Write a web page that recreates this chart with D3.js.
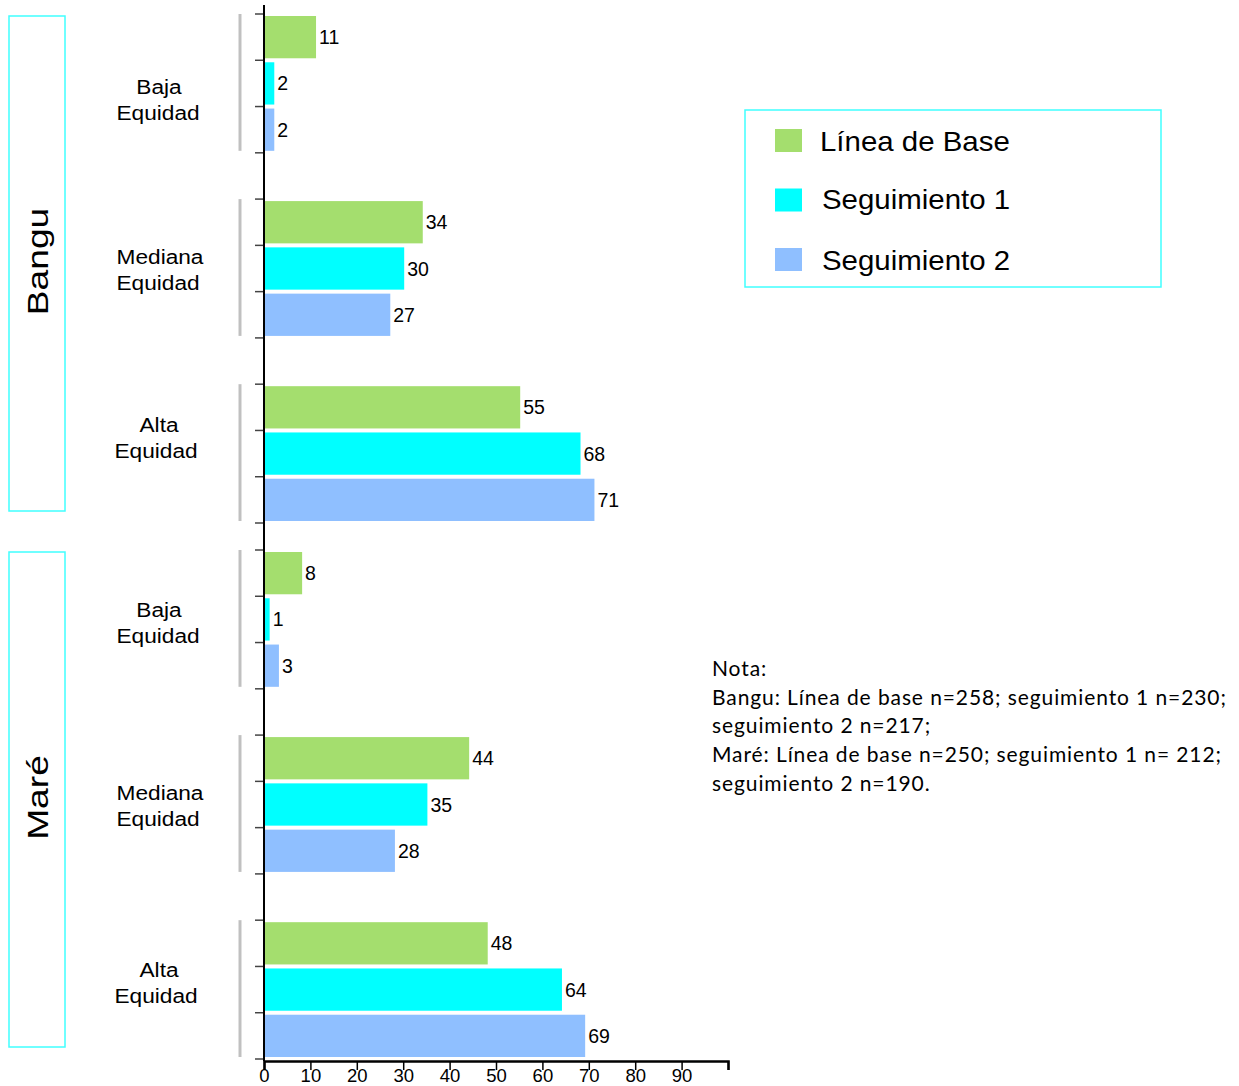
<!DOCTYPE html>
<html>
<head>
<meta charset="utf-8">
<script src="https://cdn.jsdelivr.net/npm/d3@7"></script>
<style>
  body { margin: 0; background: #fff; }
</style>
</head>
<body>
<div id="chart"></div>
<script>
// datos
const sites = ["Bangu", "Maré"]
const levels = [["Baja", "Equidad"], ["Mediana", "Equidad"], ["Alta", "Equidad"]]
const seriesNames = ["Línea de Base", "Seguimiento 1", "Seguimiento 2"]
const seriesColors = ["#a4de6e", "#00ffff", "#8fbfff"]
const banguValues = [[11, 2, 2], [34, 30, 27], [55, 68, 71]]
const mareValues = [[8, 1, 3], [44, 35, 28], [48, 64, 69]]
const xTicks = [0, 10, 20, 30, 40, 50, 60, 70, 80, 90, 100]
const xTickLabels = ["0", "10", "20", "30", "40", "50", "60", "70", "80", "90", ""]
const notaLines = [
  "Nota:",
  "Bangu: Línea de base n=258; seguimiento 1 n=230;",
  "seguimiento 2 n=217;",
  "Maré: Línea de base n=250; seguimiento 1 n= 212;",
  "seguimiento 2 n=190."
]

const width = 1239
const height = 1086
const FONT = "Liberation Sans, Arial, sans-serif"
// desplazamiento vertical de las etiquetas de grupo (como en el original)
const panels = [
  { name: sites[0], values: banguValues, top: 14, bottom: 523, labelShift: [4, -12, -29] },
  { name: sites[1], values: mareValues, top: 550, bottom: 1059, labelShift: [-9, -12, -20] }
]

const svg = d3.select("#chart").append("svg")
  .attr("width", width).attr("height", height)
  .attr("font-family", FONT)

// texto algo estirado en horizontal, como el original
function stretchText(group, tx, ty, sx, str, size, anchor) {
  return group.append("text")
    .attr("transform", `translate(${tx},${ty}) scale(${sx},1)`)
    .attr("text-anchor", anchor || "middle")
    .attr("font-size", size)
    .text(str)
}

const x = d3.scaleLinear().domain([0, 100]).range([264, 728])

// filas: 3 barras por grupo y una fila vacía entre grupos
const slots = []
levels.forEach((l, i) => {
  seriesNames.forEach((s, j) => slots.push(i + "|" + j))
  if (i < levels.length - 1) slots.push("gap" + i)
})

panels.forEach(p => {
  const y = d3.scaleBand().domain(slots).range([p.top, p.bottom]).padding(0)
  const g = svg.append("g")

  // ticks en los limites de cada fila
  const bounds = slots.map(s => y(s)).concat([p.bottom])
  g.selectAll("line.tick").data(bounds).join("line")
    .attr("x1", x(0) - 9).attr("x2", x(0))
    .attr("y1", d => d).attr("y2", d => d)
    .attr("stroke", "#444").attr("stroke-width", 1.5)

  levels.forEach((lab, i) => {
    const gTop = y(i + "|0")
    const gBot = y(i + "|2") + y.bandwidth()
    const mid = (gTop + gBot) / 2 + p.labelShift[i]

    g.append("line")
      .attr("x1", 240).attr("x2", 240)
      .attr("y1", gTop).attr("y2", gBot - 2)
      .attr("stroke", "#c0c0c0").attr("stroke-width", 3)

    stretchText(g, lab[0] === "Mediana" ? 160 : 159, mid + 7, 1.08, lab[0], 21)
    stretchText(g, lab[0] === "Alta" ? 156 : 158, mid + 33, 1.08, lab[1], 21)

    const rows = p.values[i].map((v, j) => ({ v: v, key: i + "|" + j, c: seriesColors[j] }))
    g.selectAll("rect.b" + i).data(rows).join("rect")
      .attr("x", x(0) + 1)
      .attr("y", d => y(d.key) + 2)
      .attr("width", d => x(d.v) - x(0))
      .attr("height", y.bandwidth() - 4)
      .attr("fill", d => d.c)
    g.selectAll("text.v" + i).data(rows).join("text")
      .attr("x", d => x(d.v) + 4)
      .attr("y", d => y(d.key) + y.bandwidth() / 2 + 7)
      .attr("font-size", 19.5)
      .text(d => d.v)
  })

  // caja del sitio
  const bx = { x: 9, y: p.top + 2, w: 56, h: p.bottom - p.top - 14 }
  g.append("rect").attr("x", bx.x).attr("y", bx.y).attr("width", bx.w).attr("height", bx.h)
    .attr("fill", "none").attr("stroke", "#40ffff").attr("stroke-width", 1.5)
  g.append("text")
    .attr("transform", `translate(${bx.x + bx.w / 2 + 11},${bx.y + bx.h / 2 - 2}) rotate(-90) scale(1.24,1)`)
    .attr("text-anchor", "middle").attr("font-size", 30).text(p.name)
})

// eje vertical
svg.append("line").attr("x1", x(0)).attr("x2", x(0)).attr("y1", 5).attr("y2", 1061)
  .attr("stroke", "#000").attr("stroke-width", 2)

// eje x
const xAxis = d3.axisBottom(x).tickValues(xTicks).tickSize(9)
  .tickFormat((d, i) => xTickLabels[i])
const xAxisGroup = svg.append("g").attr("transform", "translate(0,1061)").call(xAxis)
  .attr("font-family", FONT)
xAxisGroup.select(".domain").attr("stroke-width", 2.5)
xAxisGroup.selectAll(".tick line").attr("stroke-width", 1.5)
xAxisGroup.selectAll(".tick text")
  .attr("font-size", 18.5).attr("y", 8).attr("dy", "0.71em")

// leyenda
const legend = svg.append("g")
legend.append("rect").attr("x", 745).attr("y", 110).attr("width", 416).attr("height", 177)
  .attr("fill", "none").attr("stroke", "#40ffff").attr("stroke-width", 1.5)
const legendY = d3.scalePoint().domain(seriesNames).range([140, 259])
legend.selectAll("rect.sw").data(seriesNames).join("rect")
  .attr("x", 775).attr("y", d => legendY(d) - 11).attr("width", 27).attr("height", 23)
  .attr("fill", (d, i) => seriesColors[i])
seriesNames.forEach((s, i) => {
  stretchText(legend, i === 0 ? 820 : 822, legendY(s) + (i === 1 ? 9 : 11), 1.09, s, 27, "start")
})

// nota
const nota = svg.append("g").attr("font-family", "Lato, 'Open Sans', sans-serif")
nota.selectAll("text").data(notaLines).join("text")
  .attr("x", 712).attr("y", (d, i) => 676 + i * 28.7)
  .attr("font-size", 21).attr("letter-spacing", 0.9).text(d => d)
</script>
</body>
</html>
